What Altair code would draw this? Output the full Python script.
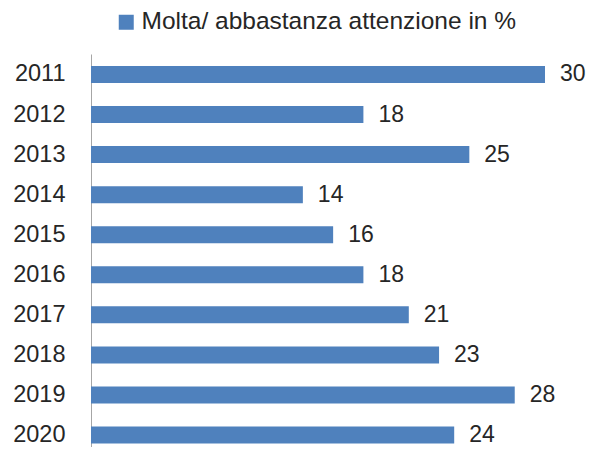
import altair as alt
import pandas as pd

years = ["2011", "2012", "2013", "2014", "2015", "2016", "2017", "2018", "2019", "2020"]
values = [30, 18, 25, 14, 16, 18, 21, 23, 28, 24]
series_name = "Molta/ abbastanza attenzione in %"

df = pd.DataFrame({"year": years, "value": values, "series": [series_name] * len(years)})

FONT = "Liberation Sans"
TEXT_COLOR = "#262626"

base = alt.Chart(df).encode(
    y=alt.Y(
        "year:O",
        sort=years,
        scale=alt.Scale(paddingInner=0.5756, paddingOuter=0.1935, align=0.774),
        axis=alt.Axis(
            title=None,
            ticks=False,
            tickSize=0,
            labelPadding=26,
            labelFontSize=23.5,
            labelFont=FONT,
            labelColor=TEXT_COLOR,
            domainColor="#A6A6A6",
            domainWidth=1,
            grid=False,
        ),
    ),
    x=alt.X(
        "value:Q",
        scale=alt.Scale(domain=[0, 30], nice=False),
        axis=None,
    ),
)

bars = base.mark_bar(color="#4F81BD").encode(
    color=alt.Color(
        "series:N",
        scale=alt.Scale(range=["#4F81BD"]),
        legend=alt.Legend(
            title=None,
            orient="none",
            legendX=23,
            legendY=-44,
            symbolType="square",
            symbolSize=225,
            symbolStrokeWidth=0,
            labelFontSize=24.5,
            labelFont=FONT,
            labelColor=TEXT_COLOR,
            labelOffset=3,
            labelLimit=600,
        ),
    )
)

labels = base.mark_text(
    align="left", baseline="middle", dx=15, fontSize=23, font=FONT, color=TEXT_COLOR
).encode(text="value:Q")

chart = (
    alt.layer(bars, labels)
    .properties(
        width=454,
        height=393,
        autosize=alt.AutoSizeParams(type="none"),
        padding={"left": 83, "top": 46, "right": 41, "bottom": 0},
        background="white",
    )
    .configure_view(stroke=None)
)

chart.save("out.html", embed_options={"renderer": "svg", "actions": False})
